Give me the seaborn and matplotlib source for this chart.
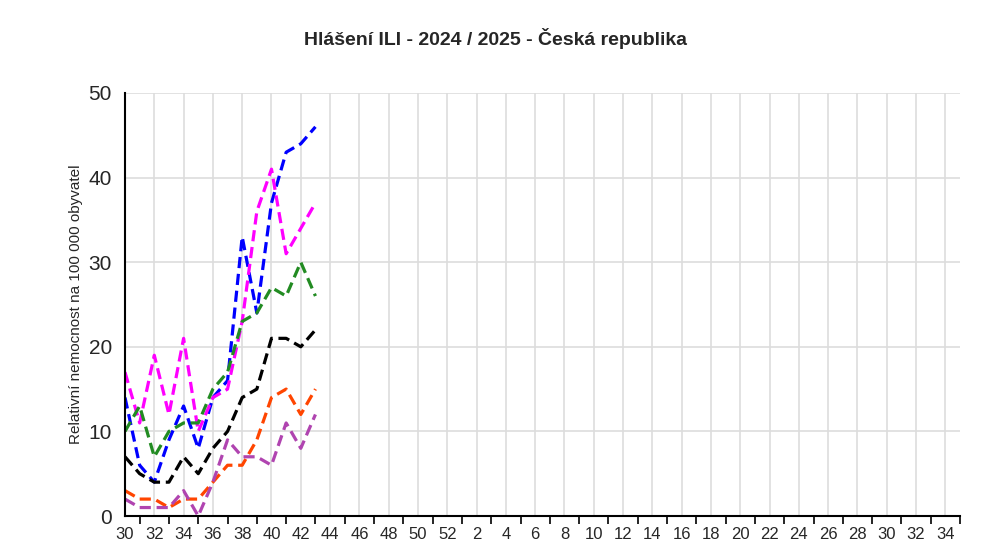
import matplotlib
matplotlib.use("Agg")
import matplotlib.pyplot as plt
import seaborn as sns
import pandas as pd

weeks = list(range(30, 53)) + list(range(1, 36))
data_weeks = list(range(30, 44))
blue = [14, 6, 4, 9, 13, 8, 14, 16, 33, 24, 37, 43, 44, 46]
magenta = [17, 11, 19, 12, 21, 10, 14, 15, 23, 36, 41, 31, 34, 37]
green = [10, 13, 7, 10, 11, 11, 15, 17, 23, 24, 27, 26, 30, 26]
black = [7, 5, 4, 4, 7, 5, 8, 10, 14, 15, 21, 21, 20, 22]
orange = [3, 2, 2, 1, 2, 2, 4, 6, 6, 9, 14, 15, 12, 15]
purple = [2, 1, 1, 1, 3, 0, 4, 9, 7, 7, 6, 11, 8, 12]
series = {"blue": (blue, "#0000ff"), "magenta": (magenta, "#ff00ff"),
          "green": (green, "#228b22"), "black": (black, "#000000"),
          "orange": (orange, "#ff4500"), "purple": (purple, "#b044b0")}

sns.set_style("white")
plt.rcParams["font.family"] = ["Liberation Sans", "DejaVu Sans"]
fig = plt.figure(figsize=(9.91, 5.58), dpi=100)
ax = fig.add_axes([125/991, 42/558, 835/991, 423/558])
rows = []
for name, (vals, c) in series.items():
    for i, v in enumerate(vals):
        rows.append({"pos": i, "val": v, "s": name})
df = pd.DataFrame(rows)
palette = {k: v[1] for k, v in series.items()}
sns.lineplot(data=df, x="pos", y="val", hue="s", palette=palette, ax=ax,
             legend=False, linewidth=2.3, dashes=False, linestyle=(0, (3.5, 1.8)))
ax.set_xlim(0, len(weeks) - 1)
ax.set_ylim(0, 50)
ax.set_yticks(range(0, 51, 10))
major = list(range(0, len(weeks), 2))
ax.set_xticks(major)
ax.set_xticklabels([str(weeks[i]) if i < len(weeks) - 1 else "" for i in major])
ax.set_xticks(range(len(weeks)), minor=True)
ax.grid(True, which="major", color="#dddddd", linewidth=1.2)
ax.set_axisbelow(True)
for s in ["top", "right"]:
    ax.spines[s].set_visible(False)
for s in ["left", "bottom"]:
    ax.spines[s].set_color("black")
    ax.spines[s].set_linewidth(1.5)
ax.tick_params(axis="both", which="major", length=6, width=1.2, color="black", direction="out")
ax.tick_params(axis="x", which="minor", length=6, width=1.2, color="black", direction="out", bottom=True)
ax.tick_params(axis="x", labelsize=12, pad=2)
ax.tick_params(axis="y", labelsize=15)
ax.set_xlabel("")
ax.set_ylabel("Relativní nemocnost na 100 000 obyvatel", fontsize=11)
fig.suptitle("Hlášení ILI - 2024 / 2025 - Česká republika", fontsize=14, fontweight="bold", y=0.95)
fig.savefig("out.png", dpi=100)
